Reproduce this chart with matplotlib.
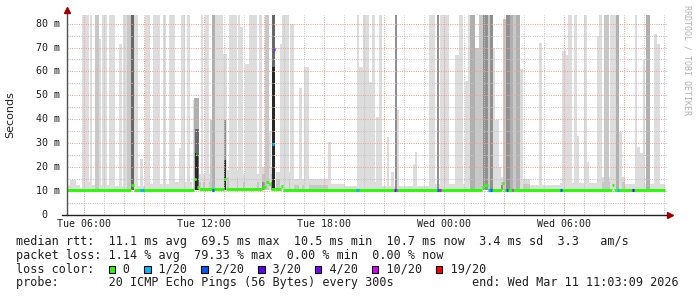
import matplotlib
matplotlib.use("Agg")
import matplotlib.pyplot as plt
from matplotlib.patches import Rectangle
import numpy as np

# time axis in hours since Tue 00:00 (Wed = 24+)
t_left = 5.15
t_right = 35.2
t_end = 35.05

# smoke bars: start, end, top (ms), darkness level 0..5
smoke_start = [5.90, 6.30, 6.54, 6.77, 6.90, 7.27, 7.77, 7.97, 8.15, 8.37, 8.52, 8.80, 9.04, 9.47, 9.94,
               10.24, 10.74, 10.87, 11.14, 11.44, 11.50, 11.55, 11.57, 11.84, 12.07, 12.30, 12.40, 12.54,
               12.97, 12.99, 13.00, 13.24, 13.70, 13.80, 14.04, 14.24, 14.74, 15.04, 15.24, 15.40, 15.42,
               15.80, 15.90, 16.30, 16.77, 17.00, 18.20, 19.64, 19.77, 19.94, 20.27, 20.40, 20.60, 20.74,
               21.14, 21.37, 21.54, 21.67, 22.44, 22.54, 23.27, 23.64, 23.80, 24.54, 24.74, 25.04, 25.20,
               25.30, 25.54, 25.77, 25.97, 26.20, 26.30, 26.47, 26.57, 26.74, 26.94, 27.10, 27.12, 27.44,
               27.60, 27.80, 28.77, 29.90, 30.10, 30.20, 30.50, 30.67, 31.00, 31.14, 31.64, 31.77, 32.00,
               32.30, 32.60, 32.77, 33.54, 33.67, 33.80, 33.94, 34.10, 34.50, 34.64]
smoke_end = [6.27, 6.40, 6.77, 6.87, 7.17, 7.57, 7.90, 8.37, 8.37, 8.50, 8.69, 8.94, 9.30, 9.80, 10.10,
             10.54, 10.87, 11.04, 11.30, 11.50, 11.77, 11.75, 11.70, 11.97, 12.27, 12.40, 12.54, 12.97,
             13.14, 13.12, 13.10, 13.64, 13.80, 13.97, 14.24, 14.64, 14.90, 15.24, 15.34, 15.57, 15.55,
             15.90, 16.25, 16.50, 16.90, 17.24, 18.34, 19.77, 19.94, 20.27, 20.40, 20.57, 20.74, 20.90,
             21.27, 21.50, 21.67, 21.77, 22.54, 22.64, 23.57, 23.74, 24.24, 24.74, 24.94, 25.20, 25.30,
             25.54, 25.77, 25.97, 26.20, 26.30, 26.47, 26.57, 26.74, 26.84, 27.10, 27.44, 27.30, 27.60,
             27.80, 27.94, 28.90, 30.10, 30.20, 30.40, 30.67, 30.77, 31.14, 31.24, 31.77, 31.90, 32.27,
             32.60, 32.77, 32.90, 33.64, 33.80, 33.94, 34.04, 34.30, 34.64, 34.80]
smoke_top = [84, 84, 84, 73.6, 84, 84, 71.5, 84, 84, 84, 84, 23.6, 84, 84, 84,
             84, 27.8, 84, 84, 47.9, 49, 36, 26, 84, 84, 39.6, 84, 84,
             67.5, 39.6, 23, 84, 84, 78.5, 63, 84, 84, 84, 35, 84, 62,
             71.6, 84, 80, 53, 62, 30.5, 84, 62, 84, 55.5, 84, 41, 84,
             32.6, 18, 84, 43.7, 21.5, 26.4, 84, 84, 84, 66.7, 84, 56, 84,
             84, 70, 84, 84, 84, 84, 70, 39.6, 20, 82, 84, 84, 84,
             84, 61, 72, 68.7, 67, 84, 84, 33, 84, 22, 75, 84, 84,
             84, 84, 34.7, 84, 28.5, 26, 64.6, 84, 75.7, 71.6]
smoke_level = [0, 0, 1, 0, 0, 0, 0, 0, 1, 4, 0, 0, 0, 0, 0,
               0, 0, 0, 0, 0, 2, 4, 5, 0, 0, 1, 2, 0,
               0, 3, 5, 0, 0, 0, 0, 0, 0, 1, 0, 4, 5,
               0, 0, 0, 0, 0, 0, 0, 0, 0, 0, 0, 0, 0,
               0, 0, 3, 0, 0, 0, 0, 3, 0, 0, 0, 0, 0,
               2, 1, 1, 3, 1, 3, 0, 0, 0, 1, 2, 3, 1,
               2, 0, 0, 0, 0, 0, 0, 0, 0, 0, 0, 0, 1,
               0, 2, 0, 0, 0, 0, 0, 2, 0, 0]

# low smoke close to the median
low_start = [5.15, 5.30, 5.90, 6.30, 7.30, 9.30, 10.55, 11.60, 12.70, 13.80, 14.90, 15.60, 16.30, 18.30,
             19.05, 20.10, 20.80, 23.30, 25.30, 27.70, 28.30, 29.80, 31.80, 33.05,
             11.60, 12.70, 13.80, 14.90, 15.60, 16.30, 25.30, 27.70, 31.80,
             14.90, 25.30]
low_end = [5.80, 5.60, 6.30, 7.30, 9.30, 10.30, 11.40, 12.70, 13.80, 14.90, 15.40, 16.30, 18.30, 19.05,
           20.10, 20.80, 23.30, 25.30, 27.70, 28.30, 29.80, 31.80, 33.05, 35.05,
           12.70, 13.80, 14.90, 15.40, 16.30, 18.30, 27.70, 28.30, 33.05,
           15.40, 27.70]
low_top = [12.5, 14.5, 14, 12.5, 12, 12.8, 14, 17, 19, 17, 20, 18, 15, 13,
           12, 14, 12, 13, 16, 15, 12.5, 13.5, 16, 13,
           14, 16, 14, 17, 15, 12.5, 14, 13, 14,
           14, 12.5]
low_level = [0] * 24 + [1] * 9 + [3] * 2

# median rtt (ms), value holds until next time
median_t = [5.15, 8.37, 8.50, 11.50, 11.58, 11.67, 11.75, 13.00, 13.10, 14.90, 15.10, 15.23, 15.33,
            15.57, 15.85, 15.93, 25.90, 26.00, 26.20, 26.90, 27.00, 32.40, 32.50]
median_ms = [10.6, 12.5, 10.6, 15, 25.4, 11.5, 10.7, 15, 10.8, 11.5, 13.6, 13, 11,
             10.8, 12, 10.6, 11.5, 12.5, 10.6, 13.3, 10.6, 12.5, 10.6]

# samples with packet loss: time, median, loss class index
loss_t = [8.82, 8.90, 12.40, 15.40, 15.48, 19.60, 19.68, 21.50, 21.58, 23.66, 23.74, 26.22, 26.30,
          27.10, 27.38, 29.80, 32.66, 33.42]
loss_ms = [10.5, 10.5, 10.5, 29.5, 69.5, 10.5, 10.5, 10.5, 10.5, 10.5, 10.5, 10.5, 10.5,
           10.5, 10.5, 10.5, 10.5, 10.5]
loss_cls = [1, 1, 2, 1, 3, 1, 1, 4, 5, 2, 5, 1, 2, 2, 5, 2, 1, 3]

loss_labels = ["0", "1/20", "2/20", "3/20", "4/20", "10/20", "19/20"]
loss_colors = ["#26ff00", "#00b8ff", "#0059ff", "#5e00ff", "#7e00ff", "#dd00ff", "#ff0000"]

x_ticks = [6, 12, 18, 24, 30]
x_labels = ["Tue 06:00", "Tue 12:00", "Tue 18:00", "Wed 00:00", "Wed 06:00"]
y_ticks = [0, 10, 20, 30, 40, 50, 60, 70, 80]
y_labels = ["0  ", "10 m", "20 m", "30 m", "40 m", "50 m", "60 m", "70 m", "80 m"]

legend_lines = [
    "median rtt:  11.1 ms avg  69.5 ms max  10.5 ms min  10.7 ms now  3.4 ms sd  3.3   am/s",
    "packet loss: 1.14 % avg  79.33 % max  0.00 % min  0.00 % now",
    "loss color:    0    1/20    2/20    3/20    4/20    10/20    19/20",
    "probe:       20 ICMP Echo Pings (56 Bytes) every 300s           end: Wed Mar 11 11:03:09 2026",
]

grays = ["#dddddd", "#c8c8c8", "#b0b0b0", "#909090", "#686868", "#282828"]
mono = "DejaVu Sans Mono"
W, H = 697, 297

fig = plt.figure(figsize=(W / 100, H / 100), dpi=100)
fig.patch.set_facecolor("white")
ax = fig.add_axes([67 / W, 82 / H, 601 / W, 200 / H])
ax.set_xlim(t_left, t_right)
ax.set_ylim(0, 83.6)
for s in ax.spines.values():
    s.set_visible(False)
ax.set_xticks([])
ax.set_yticks([])

# smoke
for i in np.argsort(low_level, kind="stable"):
    ax.bar(low_start[i], low_top[i] - 10.3, width=low_end[i] - low_start[i], bottom=10.3,
           align="edge", color=grays[low_level[i]], linewidth=0, zorder=1)
for i in np.argsort(smoke_level, kind="stable"):
    ax.bar(smoke_start[i], smoke_top[i] - 10.3, width=smoke_end[i] - smoke_start[i], bottom=10.3,
           align="edge", color=grays[smoke_level[i]], linewidth=0, zorder=2)

# grid
dots = (0, (1, 1.2))
for h in range(6, 36):
    major = h % 3 == 0
    ax.axvline(h, color="#f0a0a0" if major else "#c4c4c4", lw=0.75, ls=dots, zorder=3)
for v in range(5, 84, 5):
    ax.axhline(v, color="#f0a0a0" if v % 10 == 0 else "#c4c4c4", lw=0.75, ls=dots, zorder=3)

# median line
for i in range(len(median_t)):
    t1 = median_t[i + 1] if i + 1 < len(median_t) else t_end
    ax.hlines(median_ms[i], median_t[i], t1, color=loss_colors[0], lw=2.1, zorder=4)
for t, v, c in zip(loss_t, loss_ms, loss_cls):
    ax.hlines(v, t, t + 0.09, color=loss_colors[c], lw=2.3, zorder=5)

# axes with arrows
ax.plot([t_left, t_left], [0, 84.6], color="#505050", lw=1, clip_on=False, zorder=6)
ax.plot([t_left - 0.25, t_right], [0, 0], color="#202020", lw=1, clip_on=False, zorder=6)
ax.plot([t_left], [85.6], marker="^", ms=4, color="#a00000", clip_on=False, zorder=7)
ax.plot([t_right + 0.12], [0], marker=">", ms=4, color="#a00000", clip_on=False, zorder=7)

# tick labels
for t, lab in zip(x_ticks, x_labels):
    fig.text((67 + (t - t_left) * 20) / W, 1 - 224 / H, lab, ha="center", va="center",
             family=mono, fontsize=7.2, color="#202020")
for v, lab in zip(y_ticks, y_labels):
    fig.text(59.5 / W, 1 - (215 - v * 2.392) / H, lab, ha="right", va="center",
             family=mono, fontsize=7.2, color="#202020")

fig.text(10 / W, 1 - 115 / H, "Seconds", rotation=90, ha="center", va="center",
         family="DejaVu Sans", fontsize=8, color="#202020")
fig.text(687 / W, 1 - 5 / H, "RRDTOOL / TOBI OETIKER", rotation=270, ha="center", va="top",
         family=mono, fontsize=6, color="#b4b4b4")

# legend block
cw = 8.5 * 100 / 72 * 0.602
rows = [241, 255, 269, 282.5]
for y, line in zip(rows, legend_lines):
    fig.text(16 / W, 1 - y / H, line, ha="left", va="center", family=mono, fontsize=8.5,
             color="#202020")
col = 13
for lab, c in zip(loss_labels, loss_colors):
    x0 = 16 + col * cw + 0.3
    fig.patches.append(Rectangle((x0 / W, 1 - 272.5 / H), 6.6 / W, 6.6 / H, transform=fig.transFigure,
                                 facecolor=c, edgecolor="black", lw=0.8))
    col += 2 + len(lab) + 2

fig.savefig("out.png", dpi=100)
